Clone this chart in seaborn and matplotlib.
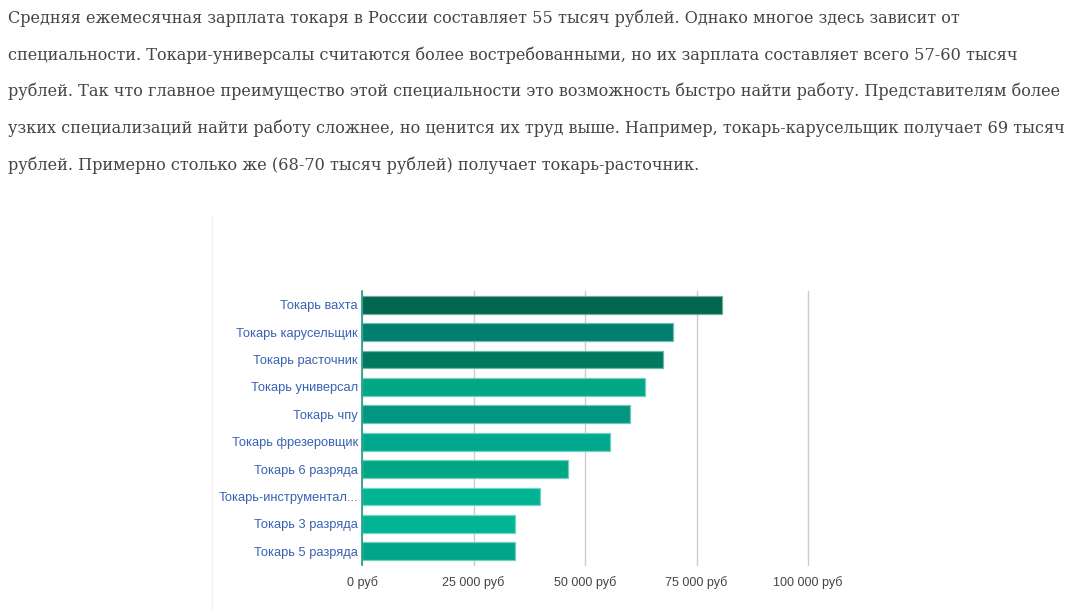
import numpy as np
import pandas as pd
import matplotlib
matplotlib.use("Agg")
import matplotlib.pyplot as plt
import matplotlib.colors as mcolors
import seaborn as sns

# Chart data
professions = ["Токарь вахта", "Токарь карусельщик", "Токарь расточник",
               "Токарь универсал", "Токарь чпу", "Токарь фрезеровщик",
               "Токарь 6 разряда", "Токарь-инструментал...",
               "Токарь 3 разряда", "Токарь 5 разряда"]
salaries = [80800, 69800, 67600, 63500, 60000, 55500, 46100, 40000, 34200, 34200]
bar_colors = ["#00664f", "#007f6f", "#00795f", "#00a884", "#009682",
              "#00a88f", "#00a785", "#00b393", "#00b494", "#00a68a"]
x_ticks = [0, 25000, 50000, 75000, 100000]
x_tick_labels = ["0 руб", "25 000 руб", "50 000 руб", "75 000 руб", "100 000 руб"]

paragraph = [
    "Средняя ежемесячная зарплата токаря в России составляет 55 тысяч рублей. Однако многое здесь зависит от",
    "специальности. Токари-универсалы считаются более востребованными, но их зарплата составляет всего 57-60 тысяч",
    "рублей. Так что главное преимущество этой специальности это возможность быстро найти работу. Представителям более",
    "узких специализаций найти работу сложнее, но ценится их труд выше. Например, токарь-карусельщик получает 69 тысяч",
    "рублей. Примерно столько же (68-70 тысяч рублей) получает токарь-расточник.",
]

df = pd.DataFrame({"profession": professions, "salary": salaries})

sns.set_style("white")
plt.rcParams["font.family"] = ["Liberation Sans", "DejaVu Sans"]

fig = plt.figure(figsize=(10.9, 6.1), dpi=100)

# Paragraph above the chart
for i, line in enumerate(paragraph):
    fig.text(8 / 1090, 1 - (18 + i * 36.8) / 610, line, fontsize=11.65,
             family=["DejaVu Serif"], color="#444444", va="center", ha="left")

# faint frame line left of the chart
fig.add_artist(plt.Line2D([212 / 1090, 212 / 1090], [0, 1 - 215 / 610],
                          color="#f0f0f0", lw=1))

ax = fig.add_axes([362 / 1090, 1 - 565 / 610, (808 - 362) / 1090, (565 - 291) / 610])
palette = dict(zip(professions, bar_colors))
sns.barplot(data=df, x="salary", y="profession", hue="profession", palette=palette,
            orient="h", width=0.65, legend=False, saturation=1, ax=ax, zorder=3)

# lighter thin edge around each bar
for patch in ax.patches:
    fc = np.array(mcolors.to_rgb(patch.get_facecolor()))
    patch.set_edgecolor(fc + (1 - fc) * 0.45)
    patch.set_linewidth(0.9)

ax.set_xlim(0, 100000)
ax.set_ylim(9.5, -0.5)
ax.set_xticks(x_ticks)
ax.set_xticklabels(x_tick_labels, fontsize=9, color="#444444")
ax.tick_params(axis="y", labelsize=9.3, labelcolor="#3a62b4", length=0, pad=3)
ax.tick_params(axis="x", length=0, pad=8)
ax.set_xlabel("")
ax.set_ylabel("")
ax.grid(axis="x", color="#cccccc", lw=1, zorder=0)
for gl in ax.get_xgridlines():
    gl.set_clip_on(False)
for side in ["top", "right", "bottom"]:
    ax.spines[side].set_visible(False)
ax.spines["left"].set_color("#1a9f80")
ax.spines["left"].set_linewidth(1.2)
ax.spines["left"].set_zorder(4)

plt.savefig("out.png", dpi=100)
